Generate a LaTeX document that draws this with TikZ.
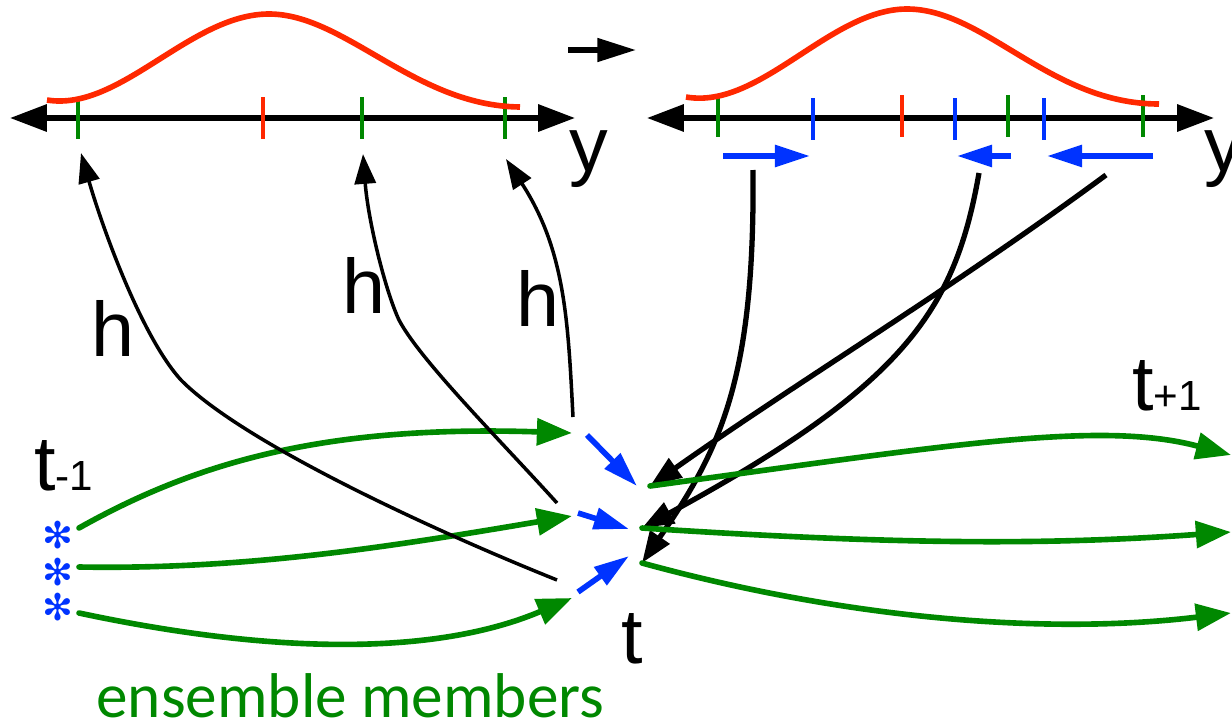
\documentclass[tikz,border=0pt]{standalone}
\usepackage{fontspec}
\setmainfont{Liberation Sans}
\newfontfamily\ensfont{Carlito}
\newfontfamily\starfont{DejaVu Sans}
\usepackage{tikz}
\usetikzlibrary{
	arrows.meta,
	positioning,
	calc
}
\definecolor{ensgreen}{RGB}{0,136,0}
\definecolor{pdfred}{RGB}{255,40,0}
\definecolor{shiftblue}{RGB}{0,51,255}

\begin{document}
\begin{tikzpicture}[
				x=0.02cm, y=-0.02cm,
				axisline/.style={
					line width=3pt,
					{Triangle[length=21pt,width=15pt]}-{Triangle[length=21pt,width=15pt]}
				},
				tickmark/.style={line width=2.8pt},
				pdfcurve/.style={pdfred, line width=3.2pt},
				member/.style={
					ensgreen, line width=3.2pt, line cap=round,
					-{Triangle[length=20pt,width=15pt]}
				},
				nudge/.style={shiftblue, line width=3.2pt, -{Triangle[length=20pt,width=12pt]}},
				obsop/.style={black, line width=2pt, -{Triangle[length=17pt,width=12pt]}},
				update/.style={black, line width=3pt, -{Triangle[length=18pt,width=13pt]}},
				biglabel/.style={font=\fontsize{44}{48}\selectfont, inner sep=0pt, anchor=base west},
				memberstar/.style={text=shiftblue, font=\starfont\fontsize{21}{22}\selectfont, inner sep=0pt}
				]
				
				\useasboundingbox (0,0) rectangle (1232,724);
				
				% prior axis
				\coordinate (lA) at (10,118);
				\coordinate (lB) at (575,118);
				\draw[axisline] (lA) -- (lB);
				\foreach \x in {78,362,505}
					\draw[tickmark, ensgreen] (\x,97) -- (\x,139);
				\draw[tickmark, pdfred] (263,97) -- (263,139);
				\draw[pdfcurve] (47,100) .. controls (120,112) and (190,14) .. (269,14)
					.. controls (345,14) and (415,106) .. (520,107);
				\node[biglabel] (ylab1) at (569,171) {y};
				
				% tips of the h arrows
				\coordinate (lg1) at (81,153);
				\coordinate (lg2) at (363,154);
				\coordinate (lg3) at (506,159);
				
				% step arrow
				\coordinate (mA) at (568,50);
				\coordinate (mB) at (636,50);
				\draw[line width=3pt, -{Triangle[length=22pt,width=13pt]}] (mA) -- (mB);
				
				% posterior axis
				\coordinate (rA) at (647,118);
				\coordinate (rB) at (1214,118);
				\draw[axisline] (rA) -- (rB);
				\foreach \x in {718,1008,1143}
					\draw[tickmark, ensgreen] (\x,95) -- (\x,137);
				\foreach \x in {813,955,1044}
					\draw[tickmark, shiftblue] (\x,98) -- (\x,140);
				\draw[tickmark, pdfred] (902,95) -- (902,137);
				\draw[pdfcurve] (686,97) .. controls (760,110) and (830,9) .. (907,9)
					.. controls (985,9) and (1050,104) .. (1159,104);
				\node[biglabel] (ylab2) at (1204,171) {y};
				
				% shifts of the members
				\foreach \n/\a/\b in {1/723/810, 2/1011/957, 3/1153/1047} {
					\coordinate (ns\n) at (\a,156);
					\coordinate (ne\n) at (\b,156);
					\draw[nudge] (ns\n) -- (ne\n);
				}
				
				% members at t-1
				\node[biglabel] (tprev) at (34,490) {t{\fontsize{24}{28}\selectfont-1}};
				\node[memberstar] (s1) at (58,535) {✻};
				\node[memberstar] (s2) at (58,572) {✻};
				\node[memberstar] (s3) at (58,607) {✻};
				\coordinate (e1) at (79,528);
				\coordinate (e2) at (79,567);
				\coordinate (e3) at (79,613);
				
				% forecasts
				\coordinate (f1) at (572,433);
				\coordinate (f2) at (572,516);
				\coordinate (f3) at (572,598);
				\draw[member] (e1) .. controls (200,460) and (330,425) .. (f1);
				\draw[member] (e2) .. controls (250,570) and (400,545) .. (f2);
				\draw[member] (e3) .. controls (300,660) and (450,650) .. (f3);
				
				% members at t
				\coordinate (t1) at (650,486);
				\coordinate (t2) at (642,528);
				\coordinate (t3) at (642,563);
				\node[biglabel] (tnow) at (621,663) {t};
				
				% corrections
				\coordinate (c1) at (587,435);
				\coordinate (c2) at (578,513);
				\coordinate (c3) at (578,592);
				\coordinate (d1) at (637,486);
				\coordinate (d2) at (629,529);
				\coordinate (d3) at (629,556);
				\draw[nudge] (c1) -- (d1);
				\draw[nudge] (c2) -- (d2);
				\draw[nudge] (c3) -- (d3);
				
				% observation operator
				\coordinate (h1) at (557,580);
				\coordinate (h2) at (557,503);
				\coordinate (h3) at (573,417);
				\draw[obsop] (h1) .. controls (420,525) and (240,440) .. (181,380)
					.. controls (140,335) and (100,220) .. (lg1);
				\draw[obsop] (h2) .. controls (500,440) and (420,360) .. (399,320)
					.. controls (385,290) and (368,220) .. (lg2);
				\draw[obsop] (h3) .. controls (568,320) and (565,250) .. (lg3);
				\node[biglabel] (hlab1) at (91,356) {h};
				\node[biglabel] (hlab2) at (342,313) {h};
				\node[biglabel] (hlab3) at (516,326) {h};
				
				% updates back to t
				\coordinate (ua) at (753,170);
				\coordinate (ub) at (979,173);
				\coordinate (uc) at (1106,175);
				\draw[update] (ua) .. controls (755,380) and (720,450) .. (t3);
				\draw[update] (ub) .. controls (955,310) and (905,385) .. (t2);
				\draw[update] (uc) .. controls (950,290) and (800,380) .. (t1);
				
				% members at t+1
				\coordinate (r1) at (1231,455);
				\coordinate (r2) at (1231,532);
				\coordinate (r3) at (1231,613);
				\draw[member] (t1) .. controls (950,445) and (1100,420) .. (r1);
				\draw[member] (t2) .. controls (900,545) and (1050,545) .. (r2);
				\draw[member] (t3) .. controls (850,620) and (1050,635) .. (r3);
				\node[biglabel] (tnext) at (1132,410) {t{\fontsize{24}{28}\selectfont+1}};
				
				% caption
				\node[font=\ensfont\fontsize{36}{40}\selectfont, text=ensgreen,
					anchor=base west, inner sep=0pt] (enslabel) at (96,717) {ensemble members};
			\end{tikzpicture}
\end{document}
